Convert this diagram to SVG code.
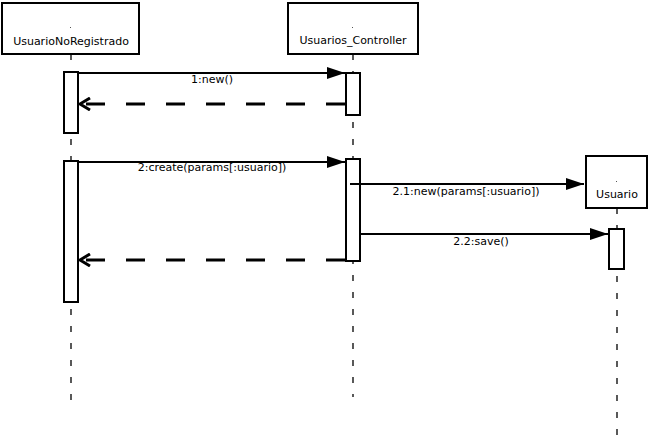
<svg xmlns="http://www.w3.org/2000/svg" width="651" height="445" viewBox="0 0 651 445">
<defs>
<style>
.box{fill:#fff;stroke:#000;stroke-width:2}
.act{fill:#fff;stroke:#000;stroke-width:2}
.life{stroke:#000;stroke-width:1.3;stroke-dasharray:6 11;fill:none}
.msg{stroke:#000;stroke-width:2;fill:none}
.ret{stroke:#000;stroke-width:3;stroke-dasharray:19 21;fill:none}
.lbl{font-family:"DejaVu Sans","Liberation Sans",sans-serif;font-size:11px;fill:#000;text-anchor:middle}
</style>
<marker id="fill" viewBox="0 0 18 12" refX="18" refY="6" markerWidth="18" markerHeight="12" markerUnits="userSpaceOnUse" orient="auto">
<path d="M0,0 L18,6 L0,12 Z" fill="#000"/>
</marker>
<marker id="open" viewBox="0 0 14 14" refX="12" refY="7" markerWidth="14" markerHeight="14" markerUnits="userSpaceOnUse" orient="auto">
<path d="M2,1 L12,7 L2,13" fill="none" stroke="#000" stroke-width="3"/>
</marker>
</defs>
<rect width="651" height="445" fill="#fff"/>
<g id="lifelines">
<line class="life" x1="71" y1="54" x2="71" y2="406"/>
<line class="life" x1="353" y1="54" x2="353" y2="397"/>
<line class="life" x1="617" y1="208" x2="617" y2="437"/>
</g>
<g id="UsuarioNoRegistrado">
<rect class="box" x="2" y="3" width="137" height="51"/>
<rect x="70" y="27" width="1" height="1" fill="#555"/>
<text class="lbl" x="71" y="45">UsuarioNoRegistrado</text>
<rect class="act" x="64" y="72" width="14" height="61"/>
<rect class="act" x="64" y="161" width="14" height="141"/>
</g>
<g id="Usuarios_Controller">
<rect class="box" x="288" y="3" width="130" height="51"/>
<rect x="352" y="27" width="1" height="1" fill="#555"/>
<text class="lbl" x="353" y="44">Usuarios_Controller</text>
<rect class="act" x="346" y="73" width="14" height="42"/>
<rect class="act" x="346" y="159" width="14" height="102"/>
</g>
<g id="Usuario">
<rect class="box" x="586" y="156" width="61" height="52"/>
<rect x="616" y="181" width="1" height="1" fill="#555"/>
<text class="lbl" x="617" y="198">Usuario</text>
<rect class="act" x="609" y="229" width="15" height="40"/>
</g>
<g id="connectors">
<line class="msg" x1="78" y1="73" x2="345" y2="73" marker-end="url(#fill)"/>
<text class="lbl" x="212" y="83">1:new()</text>
<line class="ret" x1="345" y1="104" x2="80" y2="104" marker-end="url(#open)"/>
<line class="msg" x1="78" y1="162" x2="345" y2="162" marker-end="url(#fill)"/>
<text class="lbl" x="212" y="171">2:create(params[:usuario])</text>
<line class="msg" x1="350" y1="184" x2="584" y2="184" marker-end="url(#fill)"/>
<text class="lbl" x="466" y="195">2.1:new(params[:usuario])</text>
<line class="msg" x1="360" y1="234" x2="608" y2="234" marker-end="url(#fill)"/>
<text class="lbl" x="481" y="245">2.2:save()</text>
<line class="ret" x1="345" y1="260" x2="80" y2="260" marker-end="url(#open)"/>
</g>
</svg>
